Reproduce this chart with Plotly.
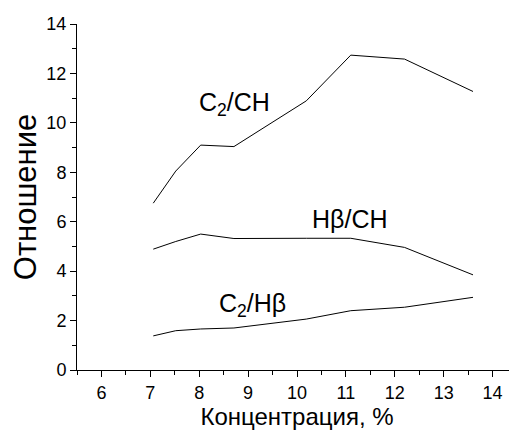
import plotly.graph_objects as go

conc = [7.06, 7.52, 8.03, 8.71, 10.19, 11.1, 12.2, 13.6]
c2_ch = [6.75, 8.05, 9.1, 9.04, 10.89, 12.74, 12.58, 11.27]
hb_ch = [4.89, 5.2, 5.5, 5.32, 5.33, 5.33, 4.96, 3.85]
c2_hb = [1.38, 1.59, 1.66, 1.70, 2.06, 2.40, 2.54, 2.94]

labels = ["C<sub>2</sub>/CH", "Hβ/CH", "C<sub>2</sub>/Hβ"]
label_x = [8.72, 11.09, 9.09]
label_y = [10.75, 6.13, 2.62]

x_ticks = [6, 7, 8, 9, 10, 11, 12, 13, 14]
y_ticks = [0, 2, 4, 6, 8, 10, 12, 14]

fig = go.Figure()
for ys in (c2_ch, hb_ch, c2_hb):
    fig.add_trace(go.Scatter(x=conc, y=ys, mode="lines",
                             line=dict(color="black", width=1), showlegend=False))

for t, lx, ly in zip(labels, label_x, label_y):
    fig.add_annotation(x=lx, y=ly, text=t, showarrow=False,
                       font=dict(size=25, color="black"))

font = "Liberation Sans, Arial, sans-serif"
# page body has an 8px default margin; figure sized to fit the 517x430 window
fig.update_layout(
    width=509, height=422,
    margin=dict(l=69, r=0, t=16, b=60),
    paper_bgcolor="white", plot_bgcolor="white",
    font=dict(family=font, color="black"),
    xaxis=dict(range=[5.5, 14.5], tickvals=x_ticks, ticks="outside", ticklen=6,
               tickcolor="black", tickwidth=1, showline=True, linecolor="black",
               linewidth=1, showgrid=False, zeroline=False, automargin=False,
               tickfont=dict(size=18),
               minor=dict(dtick=0.5, tick0=5.5, ticks="outside", ticklen=4,
                          tickcolor="black", showgrid=False),
               title=dict(text="Концентрация, %", font=dict(size=24), standoff=6)),
    yaxis=dict(range=[0, 14], tickvals=y_ticks, ticks="outside", ticklen=6,
               tickcolor="black", tickwidth=1, showline=True, linecolor="black",
               linewidth=1, showgrid=False, zeroline=False, automargin=False,
               tickfont=dict(size=18),
               minor=dict(dtick=1, tick0=0, ticks="outside", ticklen=4,
                          tickcolor="black", showgrid=False),
               title=dict(text="Отношение", font=dict(size=31), standoff=12)),
)
fig.write_html("out.html")
